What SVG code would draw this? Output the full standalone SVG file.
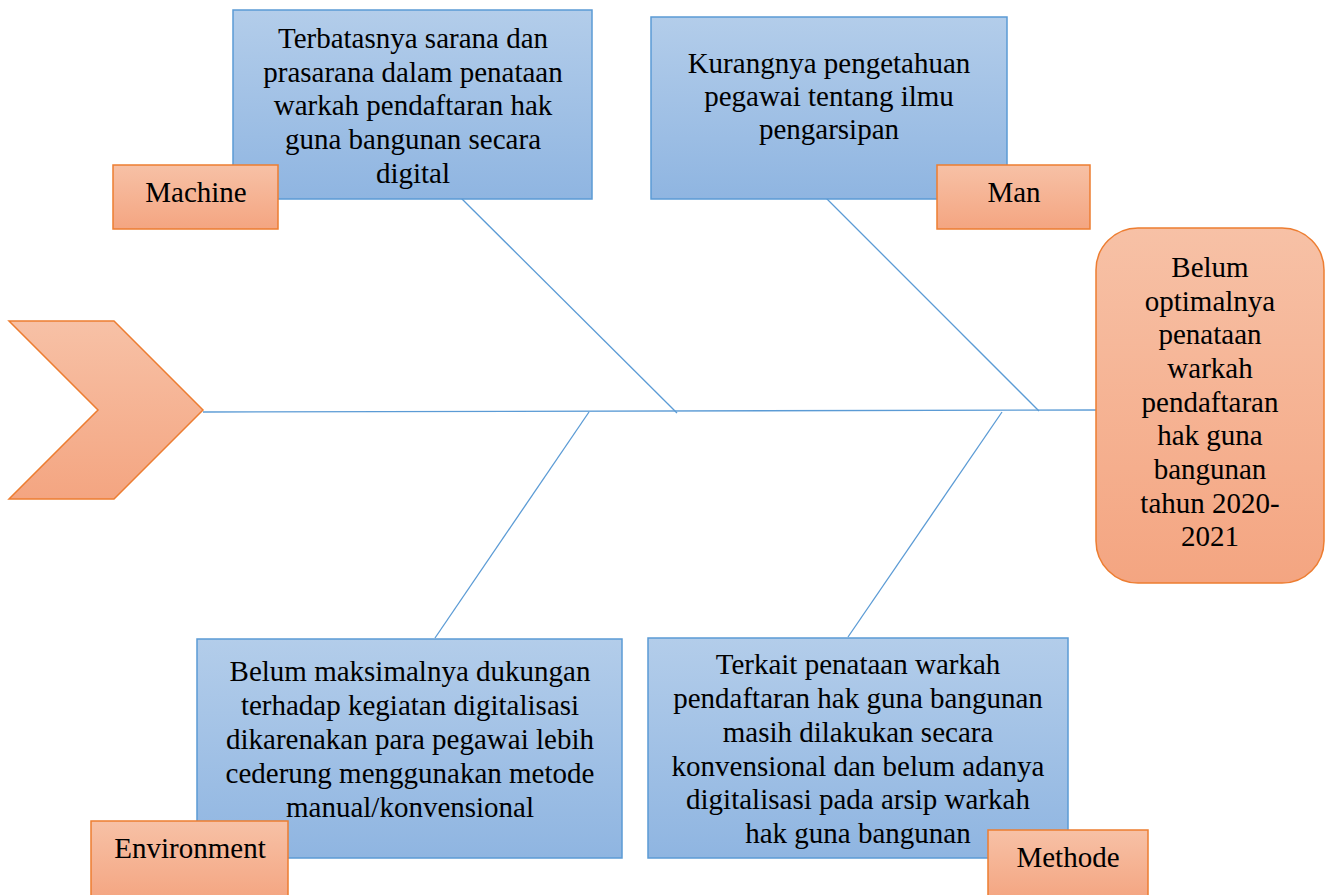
<svg xmlns="http://www.w3.org/2000/svg" width="1325" height="895" viewBox="0 0 1325 895">
<defs>
<linearGradient id="gBlue" x1="0" y1="0" x2="0" y2="1">
<stop offset="0" stop-color="#B3CDEA"/>
<stop offset="1" stop-color="#8FB5E1"/>
</linearGradient>
<linearGradient id="gOrange" x1="0" y1="0" x2="0" y2="1">
<stop offset="0" stop-color="#F7C1A6"/>
<stop offset="1" stop-color="#F4A581"/>
</linearGradient>
<style>
.blue{fill:url(#gBlue);stroke:#5B9BD5;stroke-width:1.5}
.orange{fill:url(#gOrange);stroke:#ED7D31;stroke-width:1.5}
.t{font-size:29px;fill:#000;text-anchor:middle}
.ln{stroke:#5B9BD5;stroke-width:1.3;fill:none}
</style>
</defs>
<rect width="1325" height="895" fill="#fff"/>
<g id="connectors">
<line class="ln" x1="203" y1="412" x2="1102" y2="410"/>
<line class="ln" x1="460" y1="197" x2="677" y2="413"/>
<line class="ln" x1="821" y1="193" x2="1039" y2="411"/>
<line class="ln" x1="589" y1="412" x2="435" y2="638"/>
<line class="ln" x1="1002" y1="412" x2="848" y2="637"/>
</g>
<g id="head">
<polygon class="orange" points="9,321 114,321 203,410 114,499 9,499 98,410"/>
</g>
<g font-family="Liberation Serif, Times New Roman, serif">
<g id="machine-cause">
<rect class="blue" x="233" y="10" width="359" height="189"/>
<text class="t" x="413" y="48">Terbatasnya sarana dan</text>
<text class="t" x="413" y="82">prasarana dalam penataan</text>
<text class="t" x="413" y="115">warkah pendaftaran hak</text>
<text class="t" x="413" y="149">guna bangunan secara</text>
<text class="t" x="413" y="183">digital</text>
</g>
<g id="machine-label">
<rect class="orange" x="113" y="165" width="165" height="64"/>
<text class="t" x="196" y="202">Machine</text>
</g>
<g id="man-cause">
<rect class="blue" x="651" y="17" width="356" height="182"/>
<text class="t" x="829" y="73">Kurangnya pengetahuan</text>
<text class="t" x="829" y="106">pegawai tentang ilmu</text>
<text class="t" x="829" y="139">pengarsipan</text>
</g>
<g id="man-label">
<rect class="orange" x="937" y="165" width="153" height="64"/>
<text class="t" x="1014" y="202">Man</text>
</g>
<g id="result">
<rect class="orange" x="1096" y="228" width="228" height="355" rx="42" ry="42"/>
<text class="t" x="1210" y="277">Belum</text>
<text class="t" x="1210" y="311">optimalnya</text>
<text class="t" x="1210" y="344">penataan</text>
<text class="t" x="1210" y="378">warkah</text>
<text class="t" x="1210" y="412">pendaftaran</text>
<text class="t" x="1210" y="445">hak guna</text>
<text class="t" x="1210" y="479">bangunan</text>
<text class="t" x="1210" y="513">tahun 2020-</text>
<text class="t" x="1210" y="546">2021</text>
</g>
<g id="environment-cause">
<rect class="blue" x="197" y="639" width="425" height="219"/>
<text class="t" x="410" y="681">Belum maksimalnya dukungan</text>
<text class="t" x="410" y="715">terhadap kegiatan digitalisasi</text>
<text class="t" x="410" y="749">dikarenakan para pegawai lebih</text>
<text class="t" x="410" y="783">cederung menggunakan metode</text>
<text class="t" x="410" y="817">manual/konvensional</text>
</g>
<g id="environment-label">
<rect class="orange" x="91" y="821" width="197" height="80"/>
<text class="t" x="190" y="858">Environment</text>
</g>
<g id="methode-cause">
<rect class="blue" x="648" y="638" width="420" height="220"/>
<text class="t" x="858" y="674">Terkait penataan warkah</text>
<text class="t" x="858" y="708">pendaftaran hak guna bangunan</text>
<text class="t" x="858" y="742">masih dilakukan secara</text>
<text class="t" x="858" y="776">konvensional dan belum adanya</text>
<text class="t" x="858" y="809">digitalisasi pada arsip warkah</text>
<text class="t" x="858" y="843">hak guna bangunan</text>
</g>
<g id="methode-label">
<rect class="orange" x="988" y="830" width="160" height="70"/>
<text class="t" x="1068" y="867">Methode</text>
</g>
</g>
</svg>
